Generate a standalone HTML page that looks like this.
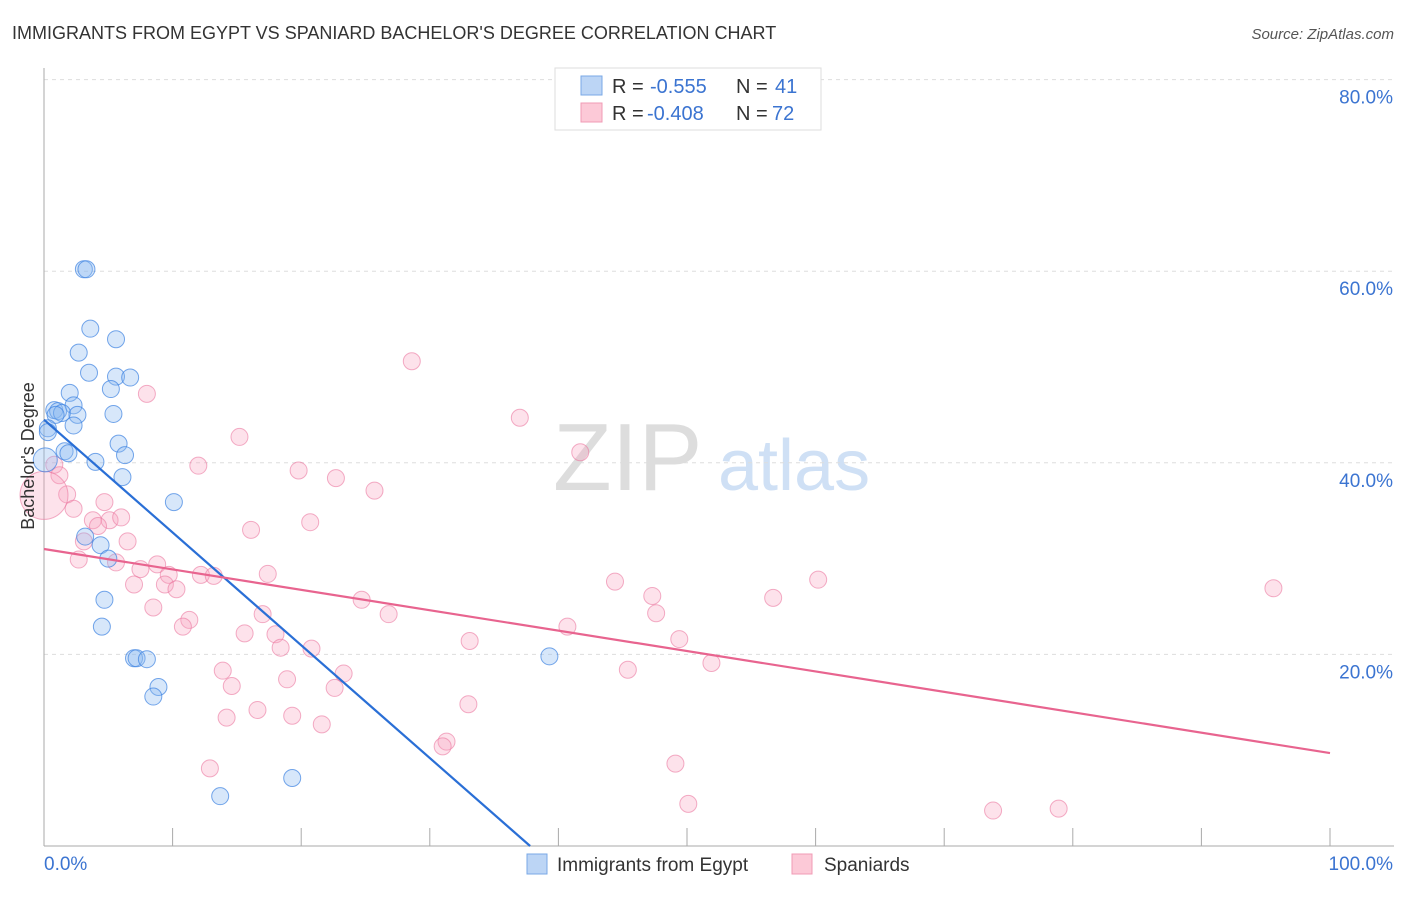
<!DOCTYPE html>
<html><head><meta charset="utf-8"><style>
body{margin:0;background:#fff;font-family:"Liberation Sans",sans-serif}
svg text{font-family:"Liberation Sans",sans-serif}
</style></head><body>
<svg id="chart" width="1406" height="892" xmlns="http://www.w3.org/2000/svg">
<text x="12" y="39" font-size="18" fill="#333">IMMIGRANTS FROM EGYPT VS SPANIARD BACHELOR'S DEGREE CORRELATION CHART</text>
<text x="1394" y="39" font-size="15" fill="#555" text-anchor="end" font-style="italic">Source: ZipAtlas.com</text>
<g><text x="553" y="490" font-size="96" fill="#ddd" font-family="Liberation Serif">ZIP</text><text x="718" y="490" font-size="72" fill="#cfe0f5">atlas</text></g>
<g id="grid"></g>
<g id="axes"></g>
<g id="marks"></g>
<g id="lines"></g>
<text transform="translate(34,456) rotate(-90)" font-size="18" fill="#333" text-anchor="middle">Bachelor's Degree</text>
<g>
<rect x="555" y="68" width="266" height="62" fill="#fff" stroke="#ddd"/>
<rect x="581" y="76" width="21" height="19" fill="#bcd5f5" stroke="#7aa8e6"/>
<rect x="581" y="103" width="21" height="19" fill="#fcc9d7" stroke="#f09bb5"/>
<text x="612" y="93" font-size="20" fill="#333">R =</text>
<text x="650" y="93" font-size="20" fill="#3b74d1">-0.555</text>
<text x="736" y="93" font-size="20" fill="#333">N =</text>
<text x="775" y="93" font-size="20" fill="#3b74d1">41</text>
<text x="612" y="120" font-size="20" fill="#333">R =</text>
<text x="647" y="120" font-size="20" fill="#3b74d1">-0.408</text>
<text x="736" y="120" font-size="20" fill="#333">N =</text>
<text x="772" y="120" font-size="20" fill="#3b74d1">72</text>
</g>
<g>
<rect x="527" y="854" width="20" height="20" fill="#bcd5f5" stroke="#7aa8e6"/>
<text x="557" y="871" font-size="19" fill="#333">Immigrants from Egypt</text>
<rect x="792" y="854" width="20" height="20" fill="#fcc9d7" stroke="#f09bb5"/>
<text x="824" y="871" font-size="19" fill="#333">Spaniards</text>
</g>
</svg>
<script>
const yTicks=[20,40,60,80];
const yTickLabels=["20.0%","40.0%","60.0%","80.0%"];
const xTicks=[0,10,20,30,40,50,60,70,80,90,100];
const egyptX=[3.1,3.3,3.6,5.6,2.7,3.5,5.6,6.7,5.2,2.0,2.3,0.8,1.1,1.4,0.9,2.6,5.4,0.3,2.3,1.6,1.9,5.8,6.3,4.0,6.1,0.1,10.1,3.2,4.4,5.0,4.7,4.5,7.0,7.2,8.0,8.9,8.5,39.3,19.3,13.7,0.3];
const egyptY=[60.2,60.2,54.0,52.9,51.5,49.4,49.0,48.9,47.7,47.3,46.0,45.5,45.4,45.2,45.0,45.0,45.1,43.6,43.9,41.2,41.0,42.0,40.8,40.1,38.5,40.3,35.9,32.3,31.4,30.0,25.7,22.9,19.6,19.6,19.5,16.6,15.6,19.8,7.1,5.2,43.2];
const spanX=[28.6,8.0,37.0,41.7,15.2,12.0,19.8,22.7,25.7,0.8,1.2,1.8,2.3,0,4.7,3.8,5.1,6.0,4.2,16.1,20.7,6.5,3.1,2.7,5.6,8.8,7.5,9.7,12.2,13.2,17.4,9.4,7.0,10.3,44.4,47.3,60.2,56.7,95.6,24.7,8.5,17.0,26.8,47.6,11.3,10.8,40.7,15.6,18.0,33.1,49.4,18.4,20.8,51.9,13.9,45.4,23.3,14.6,18.9,22.6,16.6,19.3,14.2,21.6,33.0,31.3,31.0,12.9,49.1,50.1,73.8,78.9];
const spanY=[50.6,47.2,44.7,41.1,42.7,39.7,39.2,38.4,37.1,39.8,38.7,36.7,35.2,36.6,35.9,34.0,34.0,34.3,33.4,33.0,33.8,31.8,31.8,29.9,29.6,29.4,28.9,28.3,28.3,28.2,28.4,27.3,27.3,26.8,27.6,26.1,27.8,25.9,26.9,25.7,24.9,24.2,24.2,24.3,23.6,22.9,22.9,22.2,22.1,21.4,21.6,20.7,20.6,19.1,18.3,18.4,18.0,16.7,17.4,16.5,14.2,13.6,13.4,12.7,14.8,10.9,10.4,8.1,8.6,4.4,3.7,3.9];
const egyptTrend=[[0,44.5],[37.8,0]];
const spanTrend=[[0,31.0],[100,9.7]];
const NS="http://www.w3.org/2000/svg";
const sx=v=>44+v*12.86, sy=v=>846-v*9.58;
function mk(t,a,p){const e=document.createElementNS(NS,t);for(const k in a)e.setAttribute(k,a[k]);document.getElementById(p).appendChild(e);return e;}
yTicks.forEach((t,i)=>{
 const l=mk('line',{x1:44,x2:1394,y1:sy(t),y2:sy(t),stroke:'#ddd','stroke-dasharray':'4,4'},'grid');
 
 
 const tx=mk('text',{x:1393,y:sy(t)+24,'font-size':19,fill:'#3b74d1','text-anchor':'end'},'axes');
 tx.textContent=yTickLabels[i];
 
 
});
const ax=mk('line',{x1:44,x2:44,y1:68,y2:846,stroke:'#aaa'},'axes');


const bx=mk('line',{x1:44,x2:1394,y1:846,y2:846,stroke:'#aaa'},'axes');


xTicks.forEach(t=>{
 const l=mk('line',{x1:sx(t),x2:sx(t),y1:828,y2:846,stroke:'#aaa'},'axes');
 
 
});
const x0=mk('text',{x:44,y:870,'font-size':19,fill:'#3b74d1'},'axes');x0.textContent='0.0%';


const x1=mk('text',{x:1393,y:870,'font-size':19,fill:'#3b74d1','text-anchor':'end'},'axes');x1.textContent='100.0%';


spanX.forEach((v,i)=>{
 const c=mk('circle',{cx:sx(v),cy:sy(spanY[i]),r:(v===0?24:8.5),fill:'rgba(248,160,188,0.3)',stroke:'rgba(235,120,160,0.6)','stroke-width':1},'marks');
 
 
});
egyptX.forEach((v,i)=>{
 const c=mk('circle',{cx:sx(v),cy:sy(egyptY[i]),r:(i===25?12:8.5),fill:'rgba(140,185,240,0.35)',stroke:'rgba(60,130,225,0.7)','stroke-width':1},'marks');
 
 
});
const l1=mk('line',{x1:sx(egyptTrend[0][0]),y1:sy(egyptTrend[0][1]),x2:sx(egyptTrend[1][0]),y2:sy(egyptTrend[1][1]),stroke:'#2a6fd6','stroke-width':2.2},'lines');


const l2=mk('line',{x1:sx(spanTrend[0][0]),y1:sy(spanTrend[0][1]),x2:sx(spanTrend[1][0]),y2:sy(spanTrend[1][1]),stroke:'#e8648f','stroke-width':2.2},'lines');


</script>
</body></html>
